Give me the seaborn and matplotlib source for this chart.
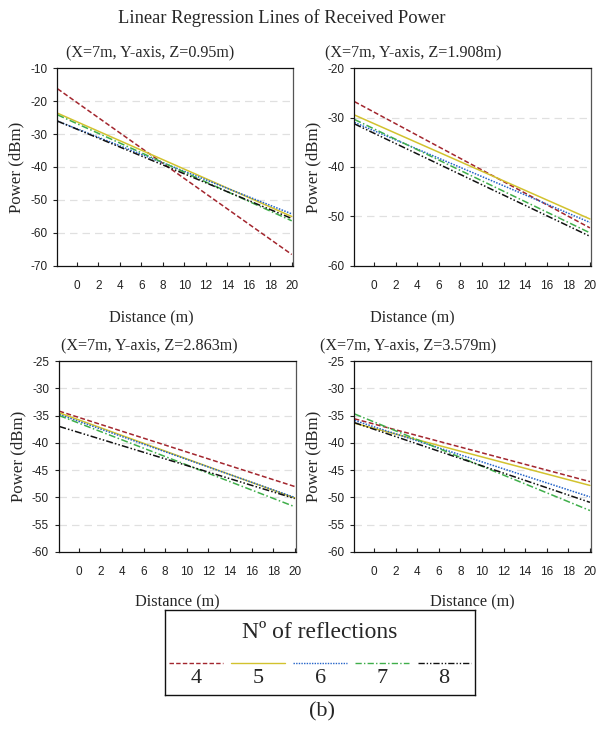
import matplotlib
matplotlib.use("Agg")
import matplotlib.pyplot as plt
import numpy as np
import pandas as pd
import seaborn as sns

# Number of reflections for each regression line
reflections = ["4", "5", "6", "7", "8"]
# Distance span covered by each regression line (m)
distance_span = [-1.8, 20.0]

# Regression line power at the start / end of the distance span (dBm)
z0950_start = [-16.3, -23.7, -26.1, -24.2, -26.1]
z0950_end = [-66.5, -55.0, -54.2, -56.3, -55.6]

z1908_start = [-26.8, -29.5, -31.0, -30.4, -31.3]
z1908_end = [-52.3, -50.5, -51.2, -53.3, -54.0]

z2863_start = [-34.2, -34.5, -34.8, -35.0, -37.0]
z2863_end = [-48.0, -50.1, -50.0, -51.7, -50.2]

z3579_start = [-35.6, -36.4, -35.9, -34.7, -36.3]
z3579_end = [-47.1, -47.8, -49.9, -52.4, -50.9]

panel_titles = [
    "(X=7m, Y-axis, Z=0.95m)",
    "(X=7m, Y-axis, Z=1.908m)",
    "(X=7m, Y-axis, Z=2.863m)",
    "(X=7m, Y-axis, Z=3.579m)",
]
panel_ylims = [(-70, -10), (-60, -20), (-60, -25), (-60, -25)]
panel_ysteps = [10, 10, 5, 5]
x_ticks = list(range(0, 21, 2))

colors = {"4": "#a3262e", "5": "#d2c22e", "6": "#2463c8", "7": "#3fae4a", "8": "#111111"}
dashes = {
    "4": (3.2, 1.6),
    "5": "",
    "6": (1.0, 0.9),
    "7": (4.5, 1.6, 1.0, 1.6),
    "8": (4.5, 1.4, 1.0, 1.4, 1.0, 1.4),
}


def panel_frame(starts, ends):
    rows = []
    for r, s, e in zip(reflections, starts, ends):
        rows.append({"Distance": distance_span[0], "Power": s, "Reflections": r})
        rows.append({"Distance": distance_span[1], "Power": e, "Reflections": r})
    return pd.DataFrame(rows)


frames = [
    panel_frame(z0950_start, z0950_end),
    panel_frame(z1908_start, z1908_end),
    panel_frame(z2863_start, z2863_end),
    panel_frame(z3579_start, z3579_end),
]

sns.set_theme(style="white")
plt.rcParams["font.family"] = ["Liberation Sans", "DejaVu Sans"]
serif = ["Liberation Serif", "DejaVu Serif"]

fig = plt.figure(figsize=(6.0, 7.36), dpi=100)

# axes rectangles in figure fractions
rects = [
    [0.095, 0.6386, 0.393, 0.269],
    [0.590, 0.6386, 0.395, 0.269],
    [0.098, 0.2500, 0.395, 0.2595],
    [0.590, 0.2500, 0.395, 0.2595],
]
title_x = [0.394, 0.25, 0.384, 0.228]
xlabel_x = [0.40, 0.245, 0.5, 0.5]

for i, (rect, df) in enumerate(zip(rects, frames)):
    ax = fig.add_axes(rect)
    sns.lineplot(
        data=df, x="Distance", y="Power", hue="Reflections", style="Reflections",
        palette=colors, dashes=dashes, hue_order=reflections, style_order=reflections,
        linewidth=1.1, legend=False, ax=ax,
    )
    lo, hi = panel_ylims[i]
    yt = np.arange(lo, hi + 0.1, panel_ysteps[i])
    ax.set_xlim(-1.85, 20.1)
    ax.set_ylim(lo, hi)
    ax.set_yticks(yt)
    ax.set_xticks(x_ticks)
    ax.set_yticklabels([f"{v:g}" for v in yt])
    for y in yt[1:-1]:
        ax.axhline(y, color="#e0e0e0", lw=0.9, ls=(0, (6, 4)), zorder=0)
    ax.tick_params(axis="x", direction="in", length=3, width=0.8, pad=10,
                   labelsize=8.5, colors="#222222", bottom=True)
    ax.tick_params(axis="y", direction="out", length=3, width=0.8, pad=4,
                   labelsize=8.5, colors="#222222", left=True)
    for side in ["left", "bottom", "top", "right"]:
        ax.spines[side].set_visible(True)
        ax.spines[side].set_color("#111111")
        ax.spines[side].set_linewidth(0.9)
    ax.spines["right"].set_color("#555555")
    ax.set_xlabel("")
    ax.set_ylabel("Power (dBm)", fontsize=12.2, family=serif, labelpad=4)
    ax.text(xlabel_x[i], -0.265, "Distance (m)", transform=ax.transAxes,
            ha="center", va="center", fontsize=11.7, family=serif)
    ax.text(title_x[i], 1.075, panel_titles[i], transform=ax.transAxes,
            ha="center", va="center", fontsize=11.6, family=serif)

fig.text(0.47, 0.9755, "Linear Regression Lines of Received Power",
         ha="center", va="center", fontsize=13.3, family=serif)

# legend box with line samples above their labels
leg = fig.add_axes([0.275, 0.0557, 0.517, 0.1155])
leg.set_xlim(0, 5)
leg.set_ylim(0, 1)
leg.set_xticks([])
leg.set_yticks([])
for side in ["left", "bottom", "top", "right"]:
    leg.spines[side].set_visible(True)
    leg.spines[side].set_color("#111111")
    leg.spines[side].set_linewidth(1.0)
leg.text(2.5, 0.74, "Nº of reflections", ha="center", va="center",
         fontsize=17, family=serif)
for k, r in enumerate(reflections):
    d = dashes[r]
    ls = "-" if d == "" else (0, d)
    leg.plot([k + 0.07, k + 0.93], [0.376, 0.376], color=colors[r], lw=1.0, ls=ls)
    leg.text(k + 0.5, 0.19, r, ha="center", va="center", fontsize=16, family=serif)

fig.text(0.537, 0.0326, "(b)", ha="center", va="center", fontsize=16, family=serif)

fig.savefig("out.png", dpi=100)
